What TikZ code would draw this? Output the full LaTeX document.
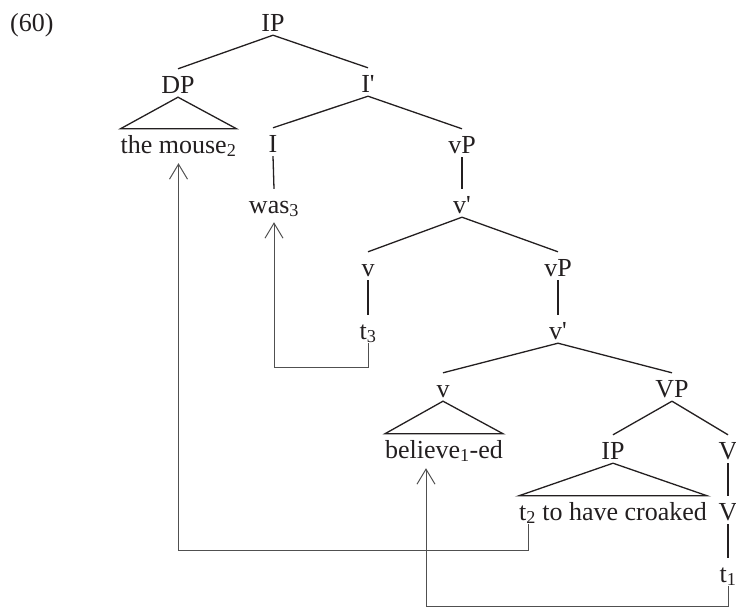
\documentclass[tikz,border=0pt]{standalone}
\usepackage{fontspec}
\setmainfont{Liberation Serif}
\usetikzlibrary{arrows.meta}
\definecolor{ink}{HTML}{231F20}
\definecolor{trail}{HTML}{505050}

\begin{document}
\begin{tikzpicture}[x=1pt,y=-1pt,
  cat/.style={font=\fontsize{26}{30}\selectfont,text=ink,anchor=base,
    inner xsep=0pt,inner ysep=4pt,text height=20pt,text depth=0pt},
  branch/.style={ink,line width=1.3pt},
  move/.style={trail,line width=1pt,-{Straight Barb[length=15pt,width=18pt]}}]
  \useasboundingbox (0,0) rectangle (736,608);
  \node[cat,anchor=base west] (ex) at (10,31) {(60)};
  % tree
  \node[cat] (IP) at (273,31) {IP};
  \node[cat] (DP) at (178,93) {DP};
  \node[cat] (Ibar) at (368,92) {I\textquotesingle};
  \node[cat] (mouse) at (178.5,153) {the mouse\textsubscript{2}};
  \node[cat] (I) at (273,152) {I};
  \node[cat] (vP) at (462,153) {vP};
  \node[cat] (was) at (274,213) {was\textsubscript{3}};
  \node[cat] (vbar) at (462,213) {v\textquotesingle};
  \node[cat] (v) at (368,276) {v};
  \node[cat] (vPlow) at (558,276) {vP};
  \node[cat] (tthree) at (368,339) {t\textsubscript{3}};
  \node[cat] (vbarlow) at (558,339) {v\textquotesingle};
  \node[cat] (vlow) at (443,397) {v};
  \node[cat] (VP) at (672,397) {VP};
  \node[cat] (believe) at (444,458) {believe\textsubscript{1}-ed};
  \node[cat] (IPlow) at (613,459) {IP};
  \node[cat] (V) at (728,459) {V};
  \node[cat] (croak) at (613,520) {t\textsubscript{2} to have croaked};
  \node[cat] (Vlow) at (728,520) {V};
  \node[cat] (tone) at (728,582) {t\textsubscript{1}};
  \draw[branch] (IP.south) -- (DP.north);
  \draw[branch] (IP.south) -- (Ibar.north);
  \draw[branch] (DP.south) -- (mouse.north west) -- (mouse.north east) -- cycle;
  \draw[branch] (Ibar.south) -- (I.north);
  \draw[branch] (Ibar.south) -- (vP.north);
  \draw[branch] (I.south) -- (was.north);
  \draw[branch] (vP.south) -- (vbar.north);
  \draw[branch] (vbar.south) -- (v.north);
  \draw[branch] (vbar.south) -- (vPlow.north);
  \draw[branch] (v.south) -- (tthree.north);
  \draw[branch] (vPlow.south) -- (vbarlow.north);
  \draw[branch] (vbarlow.south) -- (vlow.north);
  \draw[branch] (vbarlow.south) -- (VP.north);
  \draw[branch] (vlow.south) -- (believe.north west) -- (believe.north east) -- cycle;
  \draw[branch] (VP.south) -- (IPlow.north);
  \draw[branch] (VP.south) -- (V.north);
  \draw[branch] (IPlow.south) -- (croak.north west) -- (croak.north east) -- cycle;
  \draw[branch] (V.south) -- (Vlow.north);
  \draw[branch] (Vlow.south) -- (tone.north);
  % movement
  \draw[move] ([xshift=10pt]croak.south west) -- ++(0,26) -| ([yshift=-6pt]mouse.south);
  \draw[move] (tthree.south) -- ++(0,24) -| ([yshift=-5pt]was.south);
  \draw[move] (tone.south) -- ++(0,20) -| ([xshift=-18pt,yshift=-6pt]believe.south);
\end{tikzpicture}
\end{document}
